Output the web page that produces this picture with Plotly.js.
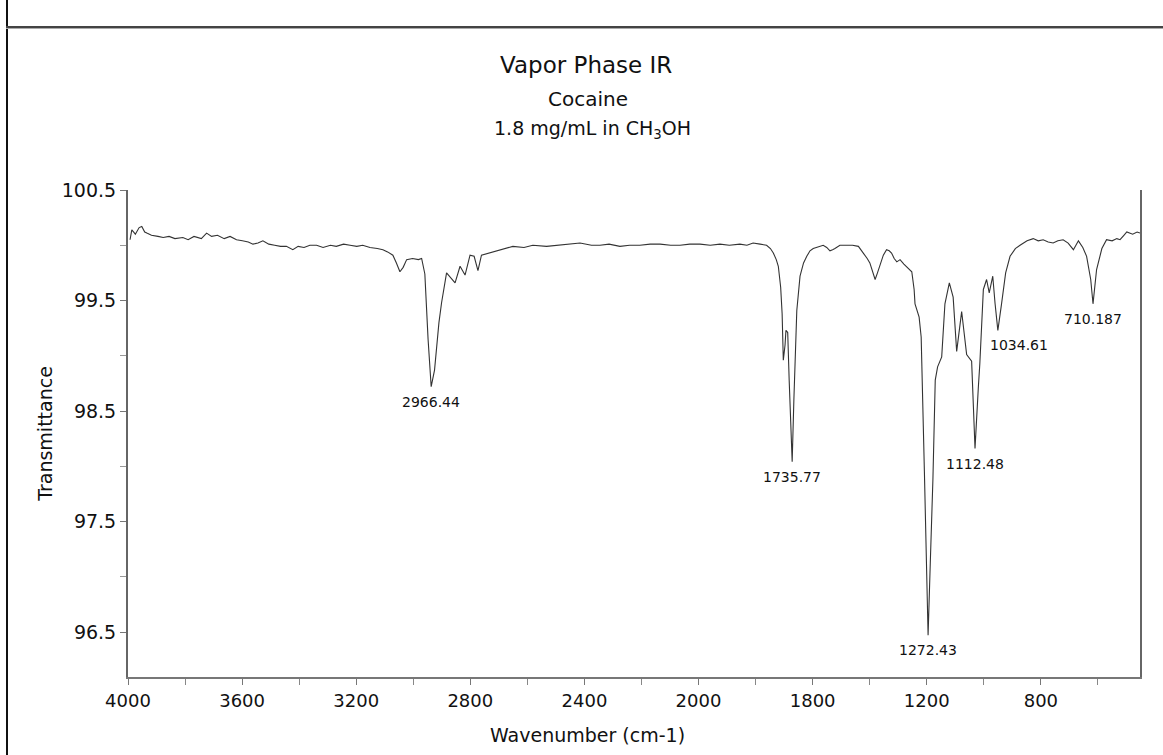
<!DOCTYPE html>
<html>
<head>
<meta charset="utf-8">
<script src="https://cdn.plot.ly/plotly-3.0.1.min.js"></script>
<style>
  html, body { margin: 0; padding: 0; background: #fff; }
  #wrap { position: relative; width: 1163px; height: 755px; overflow: hidden; }
  #chart { position: absolute; left: 0; top: 0; width: 1163px; height: 755px; }
  .frameV { position: absolute; left: 6px; top: 0; width: 2px; height: 755px; background: #111; }
  .frameH { position: absolute; left: 6px; top: 26px; width: 1157px; height: 2px; background: #444; border-bottom: 1px solid #aaa; }
</style>
</head>
<body>
<div id="wrap">
  <div id="chart"></div>
  <div class="frameV"></div>
  <div class="frameH"></div>
</div>
<script>
// Spectrum (wavenumber cm-1, % transmittance)
const wavenumber = [
  3993, 3987, 3975, 3962, 3953, 3943, 3936, 3920, 3898, 3880, 3860, 3840, 3813, 3795, 3775, 3750,
  3732, 3715, 3695, 3672, 3652, 3630, 3610, 3590, 3574, 3557, 3540, 3520, 3500, 3480, 3460, 3438,
  3420, 3400, 3380, 3357, 3335, 3310, 3290, 3265, 3243, 3220, 3200, 3175, 3150, 3131, 3115, 3097,
  3085, 3073, 3062, 3050, 3030, 3010, 2999, 2988, 2977, 2966.44, 2955, 2940, 2931, 2914, 2885, 2868,
  2851, 2834, 2820, 2807, 2795, 2770, 2732, 2700, 2688, 2650, 2620, 2573, 2540, 2500, 2459, 2420,
  2391, 2360, 2323, 2290, 2255, 2220, 2186, 2150, 2118, 2085, 2050, 2015, 1982, 1950, 1914, 1890,
  1869, 1845, 1823, 1810, 1800, 1790, 1783, 1775, 1770, 1766, 1760, 1757, 1751, 1746, 1735.77, 1730,
  1720, 1709, 1697, 1686, 1675, 1664, 1645, 1630, 1618, 1607, 1598, 1590, 1573, 1550, 1530, 1510,
  1493, 1480, 1471, 1460, 1453, 1445, 1436, 1425, 1414, 1405, 1397, 1388, 1379, 1368, 1355, 1340,
  1328, 1320, 1317, 1303, 1296, 1285, 1272.43, 1265, 1256, 1248, 1240, 1226, 1215, 1200, 1187, 1175,
  1158, 1141, 1124, 1118, 1112.48, 1101, 1096, 1084, 1073, 1064, 1052, 1044, 1034.61, 1022, 1008, 993,
  975, 959, 935, 914, 897, 880, 863, 846, 830, 812, 795, 777, 768, 760, 745, 732,
  718, 710.187, 698, 680, 664, 645, 629, 618, 605, 595, 575, 560, 550
];
const transmittance = [
  100.05, 100.14, 100.10, 100.16, 100.17, 100.12, 100.11, 100.09, 100.08, 100.07, 100.08, 100.06, 100.07, 100.05, 100.08, 100.06,
  100.11, 100.08, 100.09, 100.06, 100.08, 100.05, 100.04, 100.03, 100.01, 100.02, 100.04, 100.01, 100.00, 99.99, 99.99, 99.96,
  99.99, 99.98, 100.00, 100.00, 99.98, 100.00, 99.99, 100.01, 100.00, 99.99, 100.00, 99.98, 99.97, 99.96, 99.94, 99.91,
  99.84, 99.76, 99.80, 99.87, 99.88, 99.87, 99.88, 99.74, 99.15, 98.72, 98.87, 99.30, 99.48, 99.75, 99.66, 99.81,
  99.73, 99.91, 99.90, 99.77, 99.91, 99.93, 99.96, 99.98, 99.99, 99.98, 100.00, 99.99, 100.00, 100.01, 100.02, 100.00,
  100.00, 100.01, 99.99, 100.00, 100.00, 100.01, 100.01, 100.00, 100.00, 100.01, 100.01, 100.00, 100.01, 100.00, 100.01, 100.00,
  100.02, 100.01, 100.00, 99.97, 99.93, 99.87, 99.81, 99.62, 99.38, 98.96, 99.10, 99.23, 99.21, 98.78, 98.04, 98.60,
  99.41, 99.72, 99.84, 99.90, 99.95, 99.97, 99.99, 100.00, 99.98, 99.95, 99.96, 99.97, 100.00, 100.00, 100.00, 99.99,
  99.93, 99.88, 99.84, 99.75, 99.69, 99.75, 99.82, 99.91, 99.96, 99.95, 99.93, 99.88, 99.85, 99.87, 99.83, 99.79,
  99.76, 99.60, 99.47, 99.35, 99.17, 97.95, 96.47, 97.12, 97.88, 98.78, 98.90, 98.99, 99.47, 99.66, 99.53, 99.04,
  99.40, 99.01, 98.95, 98.54, 98.16, 98.72, 98.93, 99.60, 99.69, 99.57, 99.72, 99.47, 99.23, 99.47, 99.75, 99.90,
  99.97, 100.00, 100.04, 100.06, 100.04, 100.05, 100.03, 100.02, 100.04, 100.05, 100.02, 99.96, 100.00, 100.04, 99.98, 99.90,
  99.69, 99.47, 99.78, 99.97, 100.05, 100.04, 100.06, 100.05, 100.09, 100.12, 100.10, 100.12, 100.11
];

// Labelled peaks
const peakWavenumber = [2966.44, 1735.77, 1272.43, 1112.48, 1034.61, 710.187];
const peakTransmittance = [98.72, 98.04, 96.47, 98.16, 99.23, 99.47];
const peakLabels = ['2966.44', '1735.77', '1272.43', '1112.48', '1034.61', '710.187'];

// Tick labels as printed on the reference axis
const xTickLabels = ['4000', '3600', '3200', '2800', '2400', '2000', '1800', '1200', '800'];
const yTickLabels = ['96.5', '97.5', '98.5', '99.5', '100.5'];
const yTickValues = [96.5, 97.5, 98.5, 99.5, 100.5];

const titleLines = ['Vapor Phase IR', 'Cocaine', '1.8 mg/mL in CH<sub>3</sub>OH'];

const FONT = '"DejaVu Sans", Verdana, sans-serif';
const labelStep = 389;   // spacing of printed labels along the axis
const xTickVals = xTickLabels.map((_, k) => 4000 - k * labelStep);

const trace = {
  x: wavenumber,
  y: transmittance,
  type: 'scatter',
  mode: 'lines',
  line: { color: '#333', width: 1.1 },
  hoverinfo: 'x+y'
};

const annotations = peakLabels.map((t, i) => ({
  x: peakWavenumber[i], y: peakTransmittance[i],
  xref: 'x', yref: 'y',
  text: t, showarrow: false,
  xanchor: t === '1034.61' ? 'left' : 'center',
  xshift: t === '1034.61' ? -10 : 0,
  yanchor: 'top', yshift: -5,
  font: { family: FONT, size: 14, color: '#111' }
}));

annotations.push({
  text: titleLines[1], xref: 'paper', yref: 'paper', x: 0.4545, y: 1.187,
  showarrow: false, xanchor: 'center', yanchor: 'middle',
  font: { family: FONT, size: 20, color: '#111' }
});
annotations.push({
  text: titleLines[2], xref: 'paper', yref: 'paper', x: 0.4585, y: 1.125,
  showarrow: false, xanchor: 'center', yanchor: 'middle',
  font: { family: FONT, size: 19, color: '#111' }
});
annotations.push({
  text: 'Wavenumber (cm-1)', xref: 'paper', yref: 'paper', x: 0.4545, y: -0.119,
  showarrow: false, xanchor: 'center', yanchor: 'middle',
  font: { family: FONT, size: 19, color: '#111' }
});

const layout = {
  width: 1163, height: 755,
  margin: { l: 128, r: 23, t: 190, b: 78 },
  paper_bgcolor: '#fff', plot_bgcolor: '#fff',
  showlegend: false,
  title: {
    text: titleLines[0], xref: 'container', yref: 'container',
    x: 0.504, y: 0.914, xanchor: 'center', yanchor: 'middle',
    font: { family: FONT, size: 23, color: '#111' }
  },
  xaxis: {
    range: [4000, 550],
    tickmode: 'array', tickvals: xTickVals, ticktext: xTickLabels,
    ticks: 'outside', ticklen: 6, tickcolor: '#777', tickwidth: 1,
    minor: { tickmode: 'linear', tick0: 4000, dtick: labelStep / 2, ticks: 'outside', ticklen: 6, tickcolor: '#888' },
    showline: true, linecolor: '#777', linewidth: 2,
    showgrid: false, zeroline: false,
    tickfont: { family: FONT, size: 18, color: '#111' },
    fixedrange: true
  },
  yaxis: {
    range: [96.093, 100.5],
    tickmode: 'array', tickvals: yTickValues, ticktext: yTickLabels,
    ticks: 'outside', ticklen: 6, tickcolor: '#777', tickwidth: 1,
    minor: { tickmode: 'linear', tick0: 96.5, dtick: 0.5, ticks: 'outside', ticklen: 6, tickcolor: '#999' },
    showline: true, linecolor: '#666', linewidth: 2, mirror: true,
    showgrid: false, zeroline: false,
    title: { text: 'Transmittance', font: { family: FONT, size: 19, color: '#111' }, standoff: 4 },
    tickfont: { family: FONT, size: 19, color: '#111' },
    fixedrange: true
  },
  annotations: annotations
};

Plotly.newPlot('chart', [trace], layout, { displayModeBar: false, staticPlot: true });
</script>
</body>
</html>
